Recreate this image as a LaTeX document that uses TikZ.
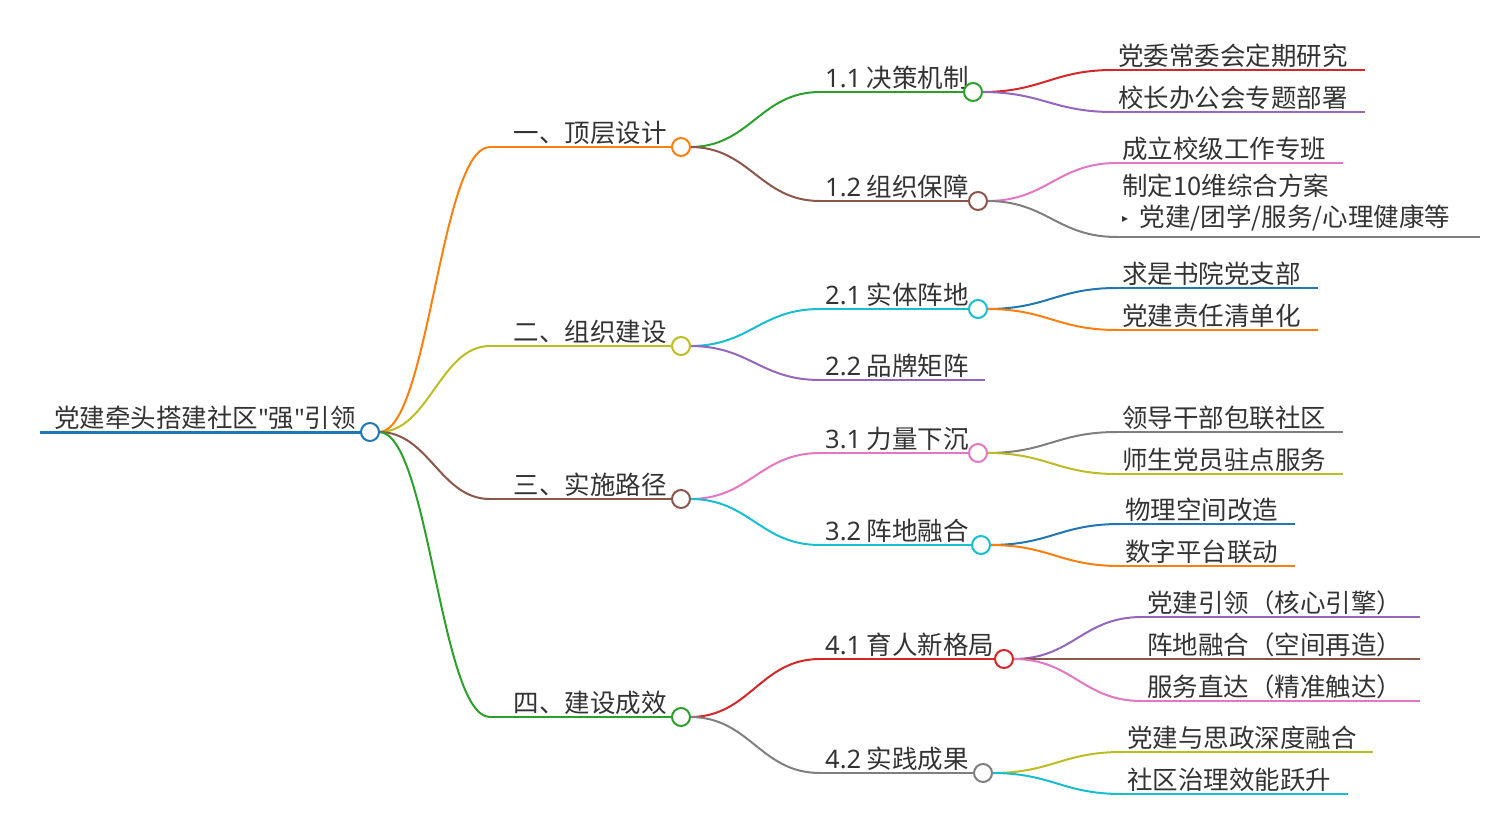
\documentclass[tikz,border=0pt]{standalone}
\usepackage{fontspec}
\setmainfont{Noto Sans CJK SC}
\newfontfamily\djv{DejaVu Sans}
\newfontfamily\lat{Noto Sans}
\definecolor{cOr}{HTML}{FF7F0E}\definecolor{cYg}{HTML}{BCBD22}\definecolor{cBr}{HTML}{8C564B}
\definecolor{cGn}{HTML}{2CA02C}\definecolor{cBl}{HTML}{1F77B4}\definecolor{cCy}{HTML}{17BECF}
\definecolor{cPu}{HTML}{9467BD}\definecolor{cPk}{HTML}{E377C2}\definecolor{cRd}{HTML}{D62728}
\definecolor{cGy}{HTML}{7F7F7F}\definecolor{cTx}{HTML}{333333}
\usetikzlibrary{calc}
\tikzset{lbl/.style={anchor=south west,inner sep=2pt,text=cTx,font=\fontsize{25.5}{29}\selectfont},
  ln/.style={line width=2pt}}
\newcommand{\dotat}[3]{\node[circle,draw=#2,fill=white,line width=2pt,minimum size=18pt,inner sep=0pt] (#1) at #3 {};}
% \mmbranch{name}{color}{parent}{x1}{x2}{y}{text}{ctrl}
\newcommand{\mmbranch}[8]{%
  \coordinate (#1s) at (#4,#6); \coordinate (#1e) at (#5,#6);
  \draw[ln,#2] (#1s) -- (#1e);
  \draw[ln,#2] (#3) .. controls ($(#3)+(#8,0)$) and ($(#1s)-(#8,0)$) .. (#1s);
  \node[lbl] (#1t) at (#4+3,#6) {#7};}
\newcommand{\mmbranchR}[8]{%
  \coordinate (#1s) at (#4,#6); \coordinate (#1e) at (#5,#6);
  \draw[ln,#2] (#1s) -- (#1e);
  \draw[ln,#2] (#3) .. controls ($(#3)+(#8,0)$) and ($(#1s)-(#8,0)$) .. (#1s);
  \node[lbl,anchor=south east] (#1t) at (#5-12,#6) {#7};}
\begin{document}
\begin{tikzpicture}[x=1pt,y=-1pt]
\useasboundingbox (0,0) rectangle (1491,821);
\coordinate (rs) at (40,432);
\draw[line width=3pt,cBl] (rs) -- (370,432);
\node[lbl,anchor=south] (rt) at (205,432) {党建牵头搭建社区{\lat"}强{\lat"}引领};
\coordinate (R) at (379,432);
\mmbranchR{a}{cOr}{R}{490}{681}{147}{一、顶层设计}{50}
\mmbranchR{b}{cYg}{R}{490}{681}{346}{二、组织建设}{50}
\mmbranchR{c}{cBr}{R}{490}{681}{499}{三、实施路径}{50}
\mmbranchR{d}{cGn}{R}{490}{681}{717}{四、建设成效}{50}
\coordinate (A) at (690,147);\coordinate (B) at (690,346);\coordinate (C) at (690,499);\coordinate (D) at (690,717);
\mmbranch{aa}{cGn}{A}{820}{973}{92}{{\lat 1.1} 决策机制}{60}
\mmbranch{ab}{cBr}{A}{820}{978}{201}{{\lat 1.2} 组织保障}{60}
\mmbranch{ba}{cCy}{B}{820}{978}{309}{{\lat 2.1} 实体阵地}{60}
\mmbranch{bb}{cPu}{B}{820}{985}{380}{{\lat 2.2} 品牌矩阵}{60}
\mmbranch{ca}{cPk}{C}{820}{978}{453}{{\lat 3.1} 力量下沉}{60}
\mmbranch{cb}{cCy}{C}{820}{981}{545}{{\lat 3.2} 阵地融合}{60}
\mmbranch{da}{cRd}{D}{820}{1004}{659}{{\lat 4.1} 育人新格局}{60}
\mmbranch{db}{cGy}{D}{820}{983}{773}{{\lat 4.2} 实践成果}{60}
\coordinate (AA) at (982,92);\coordinate (AB) at (987,201);\coordinate (BA) at (987,309);
\coordinate (CA) at (987,453);\coordinate (CB) at (990,545);\coordinate (DA) at (1013,659);\coordinate (DB) at (992,773);
\mmbranch{aa1}{cRd}{AA}{1113}{1365}{70}{党委常委会定期研究}{60}
\mmbranch{aa2}{cPu}{AA}{1113}{1365}{112}{校长办公会专题部署}{60}
\mmbranch{ab1}{cPk}{AB}{1117}{1343}{163}{成立校级工作专班}{60}
\mmbranch{ab2}{cGy}{AB}{1117}{1480}{237}{\begin{tabular}{@{}l@{}}制定10维综合方案\\[0pt]{\djv\fontsize{12}{14}\selectfont\raisebox{4pt}{▸}}\ \ 党建/团学/服务/心理健康等\end{tabular}}{60}
\mmbranch{ba1}{cBl}{BA}{1117}{1318}{288}{求是书院党支部}{60}
\mmbranch{ba2}{cOr}{BA}{1117}{1318}{330}{党建责任清单化}{60}
\mmbranch{ca1}{cGy}{CA}{1117}{1343}{432}{领导干部包联社区}{60}
\mmbranch{ca2}{cYg}{CA}{1117}{1343}{474}{师生党员驻点服务}{60}
\mmbranch{cb1}{cBl}{CB}{1120}{1295}{524}{物理空间改造}{60}
\mmbranch{cb2}{cOr}{CB}{1120}{1295}{566}{数字平台联动}{60}
\mmbranch{da1}{cPu}{DA}{1142}{1420}{617}{党建引领（核心引擎）}{60}
\mmbranch{da2}{cBr}{DA}{1142}{1420}{659}{阵地融合（空间再造）}{60}
\mmbranch{da3}{cPk}{DA}{1142}{1420}{701}{服务直达（精准触达）}{60}
\mmbranch{db1}{cYg}{DB}{1122}{1373}{752}{党建与思政深度融合}{60}
\mmbranch{db2}{cCy}{DB}{1122}{1348}{794}{社区治理效能跃升}{60}
\dotat{r0}{cBl}{(370,432)}
\dotat{a0}{cOr}{(681,147)}\dotat{b0}{cYg}{(681,346)}\dotat{c0}{cBr}{(681,499)}\dotat{d0}{cGn}{(681,717)}
\dotat{aa0}{cGn}{(973,92)}\dotat{ab0}{cBr}{(978,201)}\dotat{ba0}{cCy}{(978,309)}
\dotat{ca0}{cPk}{(978,453)}\dotat{cb0}{cCy}{(981,545)}\dotat{da0}{cRd}{(1004,659)}\dotat{db0}{cGy}{(983,773)}
\end{tikzpicture}
\end{document}
